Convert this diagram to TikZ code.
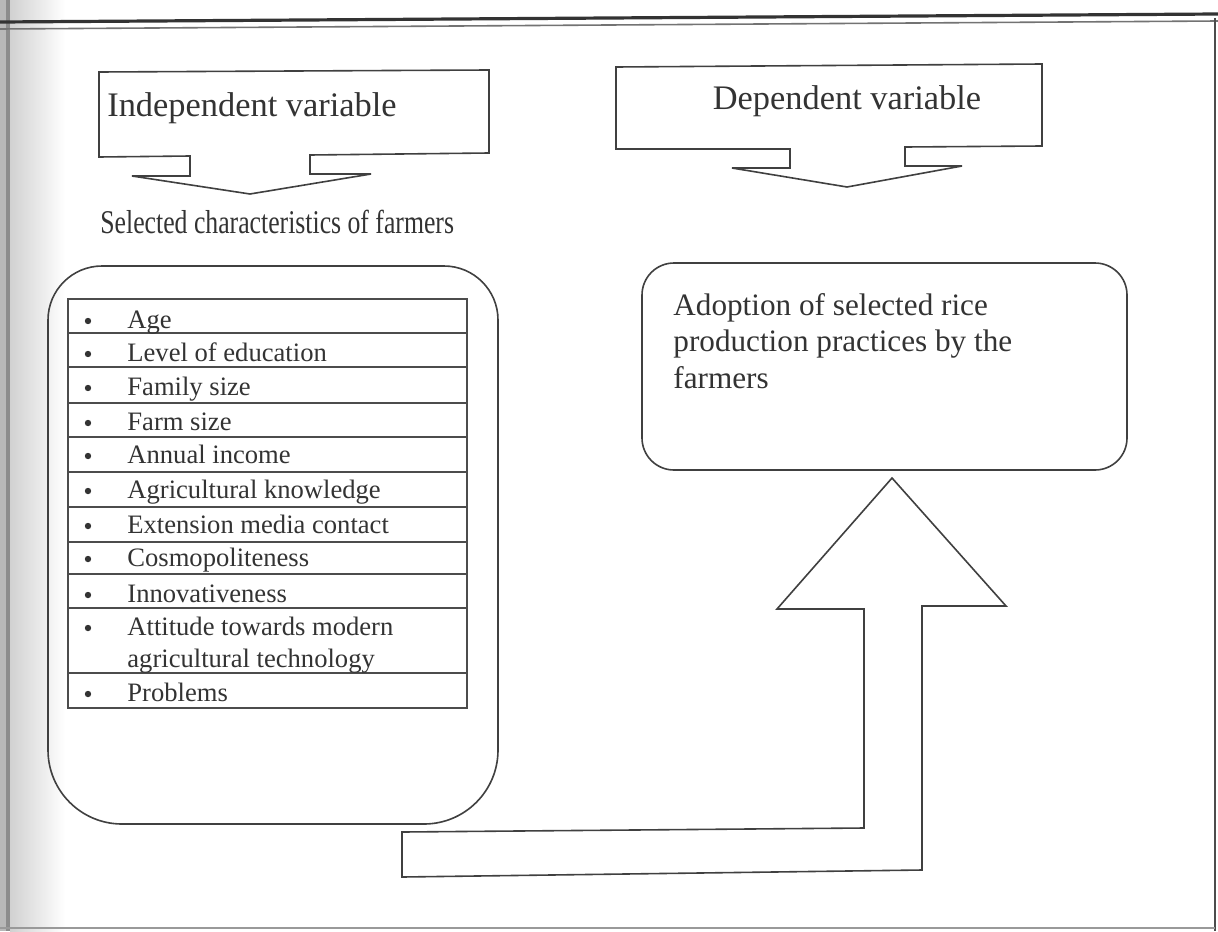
\documentclass[tikz,border=0pt]{standalone}
\usepackage{fontspec}
\setmainfont{Liberation Serif}
\begin{document}
\begin{tikzpicture}[x=0.5pt,y=-0.5pt]
\tikzset{
  shapeln/.style={draw=black!75, line width=0.8pt, line join=miter},
  tabln/.style={draw=black!70, line width=0.6pt},
  frameln/.style={draw=black!70, line width=1pt},
  head/.style={font=\fontsize{17.2pt}{20pt}\selectfont, text=black!80, inner sep=0pt},
  item/.style={font=\fontsize{13.3pt}{16pt}\selectfont, text=black!80, inner sep=0pt, anchor=base west},
  adopt/.style={font=\fontsize{15.6pt}{18pt}\selectfont, text=black!80, inner sep=0pt, anchor=base west},
  bul/.style={fill=black!80}
}
\useasboundingbox (0,0) rectangle (1218,931);
\fill[white] (0,0) rectangle (1218,931);
% scan edge on the left
\fill[black!28] (0,0) rectangle (6,931);
\fill[black!45] (6,0) rectangle (10,931);
\shade[left color=black!18, right color=white] (10,0) rectangle (65,931);
% page frame
\draw[draw=black!80, line width=1.6pt] (0,22) -- (1218,14);
\draw[draw=black!55, line width=0.8pt] (0,29) -- (1218,21);
\draw[frameln] (1215,18) -- (1215,931);
\draw[draw=black!40, line width=1pt] (0,928) -- (1215,928);

% Independent variable callout
\draw[shapeln] (99,72) -- (489,70) -- (489,153) -- (310,155) -- (310,174) -- (371,174)
  -- (250,194) -- (132,176) -- (190,176) -- (190,156) -- (99,157) -- cycle;
\node[head, anchor=base] (indep) at (252,116) {Independent variable};

% Dependent variable callout
\draw[shapeln] (616,67) -- (1042,64) -- (1042,146) -- (905,147) -- (905,166) -- (962,166)
  -- (847,187) -- (732,168) -- (790,168) -- (790,149) -- (616,149) -- cycle;
\node[head, anchor=base] (dep) at (847,110) {Dependent variable};

% Selected characteristics
\node[font=\fontsize{16.6pt}{19pt}\selectfont, text=black!80, inner sep=0pt, anchor=base west] (sel) at (100,233)
  {\scalebox{0.775}[1]{Selected characteristics of farmers}};

% rounded container
\draw[shapeln] (48,540) [rounded corners=27pt] -- (48,266) -- (498,266) -- (498,540)
  [rounded corners=37pt] -- (498,824) -- (48,824) -- cycle;

% table
\draw[tabln] (68,299) rectangle (467,708);
\foreach \yy in {333,367,403,437,472,507,542,574,608,673}
  \draw[tabln] (68,\yy) -- (467,\yy);
\foreach \bb in {328,361,395,430,463,498,533,566,602,635,701}
  \fill[bul] (88,\bb-7) circle (3.2);
\node[item] (i1) at (127,328) {Age};
\node[item] (i2) at (127,361) {Level of education};
\node[item] (i3) at (127,395) {Family size};
\node[item] (i4) at (127,430) {Farm size};
\node[item] (i5) at (127,463) {Annual income};
\node[item] (i6) at (127,498) {Agricultural knowledge};
\node[item] (i7) at (127,533) {Extension media contact};
\node[item] (i8) at (127,566) {Cosmopoliteness};
\node[item] (i9) at (127,602) {Innovativeness};
\node[item] (i10a) at (127,635) {Attitude towards modern};
\node[item] (i10b) at (127,667) {agricultural technology};
\node[item] (i11) at (127,701) {Problems};

% Adoption box
\draw[shapeln, rounded corners=16pt] (642,263) rectangle (1127,470);
\node[adopt] (a1) at (673,315) {Adoption of selected rice};
\node[adopt] (a2) at (673,351) {production practices by the};
\node[adopt] (a3) at (673,388) {farmers};

% bent up arrow
\draw[shapeln] (402,832) -- (864,828) -- (864,609) -- (777,609) -- (892,478) -- (1006,606)
  -- (922,606) -- (922,870) -- (402,877) -- cycle;
\end{tikzpicture}
\end{document}
